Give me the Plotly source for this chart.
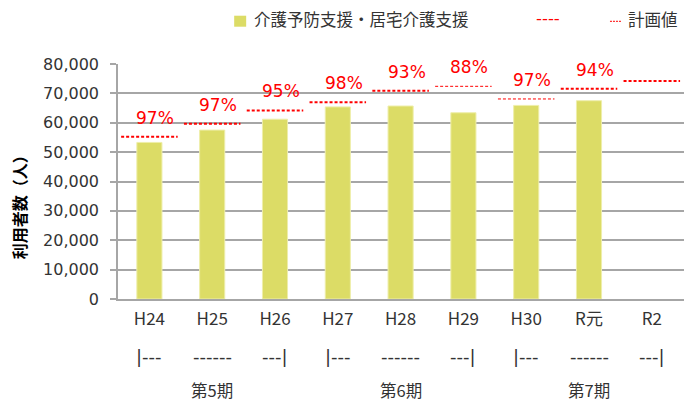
import plotly.graph_objects as go

# ---- data ----
categories = ["H24", "H25", "H26", "H27", "H28", "H29", "H30", "R元", "R2"]
actual_users = [53300, 57500, 61200, 65400, 65700, 63400, 65900, 67500, None]
plan_values = [55200, 59700, 64200, 67000, 70900, 72400, 68100, 71600, 74200]
achievement = ["97%", "97%", "95%", "98%", "93%", "88%", "97%", "94%", ""]
period_marks = ["|---", "------", "---|", "|---", "------", "---|", "|---", "------", "---|"]
period_labels = {"H25": "第5期", "H28": "第6期", "R元": "第7期"}
y_ticks = [0, 10000, 20000, 30000, 40000, 50000, 60000, 70000, 80000]

bar_name = "介護予防支援・居宅介護支援"
plan_name = "計画値"

# ---- style ----
plan_line_widths = [2, 2, 2, 2, 2, 1, 1, 2, 2]
BAR_COLOR = "#DCDC66"
RED = "#FF0000"
GRID = "#A6A6A6"
TXT = "#333333"
JP = "Noto Sans CJK JP"
NUM = "DejaVu Sans"

idx = list(range(len(categories)))

fig = go.Figure()
fig.add_trace(go.Bar(
    x=idx, y=actual_users, name=bar_name, width=0.4,
    marker=dict(color=BAR_COLOR, line=dict(color="#EEEEAA", width=1)),
    showlegend=False,
))

# plan lines: group by width
for w in sorted(set(plan_line_widths)):
    xs, ys = [], []
    for i, p in enumerate(plan_values):
        if plan_line_widths[i] != w:
            continue
        xs += [i - 0.45, i + 0.45, None]
        ys += [p, p, None]
    fig.add_trace(go.Scatter(
        x=xs, y=ys, mode="lines", name=plan_name, showlegend=False,
        line=dict(color=RED, width=w, dash="3px,2px"),
        hoverinfo="skip",
    ))

annotations = []
for i, (p, t) in enumerate(zip(plan_values, achievement)):
    if t:
        annotations.append(dict(
            x=i, y=p, xref="x", yref="y", text=t, showarrow=False,
            xshift=6, yshift=19, yanchor="middle",
            font=dict(family=NUM, size=17, color=RED),
        ))

for i, m in enumerate(period_marks):
    annotations.append(dict(
        x=i, y=-0.2426, xref="x", yref="paper", text=m, showarrow=False,
        yanchor="middle", font=dict(family=NUM, size=18, color=TXT),
    ))
for c, lab in period_labels.items():
    annotations.append(dict(
        x=categories.index(c), y=-0.387, xref="x", yref="paper", text=lab,
        showarrow=False, yanchor="middle", font=dict(family=JP, size=16.5, color=TXT),
    ))

# y-axis title
annotations.append(dict(
    x=-0.172, y=0.4085, xref="paper", yref="paper", text="<b>利用者数（人）</b>",
    textangle=-90, showarrow=False, xanchor="center", yanchor="middle",
    font=dict(family=JP, size=16, color="#000000"),
))

# legend (manual)
annotations.append(dict(
    x=0.2330, y=1.1936, xref="paper", yref="paper", text=bar_name, showarrow=False,
    xanchor="left", yanchor="middle", font=dict(family=JP, size=16.5, color=TXT),
))
annotations.append(dict(
    x=0.7248, y=1.1957, xref="paper", yref="paper", text="----", showarrow=False,
    xanchor="left", yanchor="middle", font=dict(family=NUM, size=16.5, color=RED),
))
annotations.append(dict(
    x=0.885, y=1.1936, xref="paper", yref="paper", text=plan_name, showarrow=False,
    xanchor="left", yanchor="middle", font=dict(family=JP, size=16.5, color=TXT),
))

shapes = [
    dict(type="rect", xref="paper", yref="paper", x0=0.2024, x1=0.2233, y0=1.1587, y1=1.2055,
         fillcolor=BAR_COLOR, line=dict(width=0)),
    dict(type="line", xref="paper", yref="paper", x0=0.8571, x1=0.8763, y0=1.1817, y1=1.1817,
         line=dict(color=RED, width=1, dash="2px,1px")),
]

# page body has an 8px default margin: figure drawn at (8, 8)
fig.update_layout(
    width=684, height=395,
    margin=dict(l=110, r=0, t=56, b=104),
    plot_bgcolor="white", paper_bgcolor="white",
    showlegend=False,
    annotations=annotations, shapes=shapes,
    xaxis=dict(
        range=[-0.5, 8.64], tickmode="array", tickvals=idx, ticktext=categories,
        showgrid=False, zeroline=False, showline=True, linecolor=GRID, linewidth=1.5,
        ticks="", tickfont=dict(family=JP, size=17, color=TXT), ticklabelstandoff=4,
    ),
    yaxis=dict(
        range=[0, 80000], tickmode="array", tickvals=y_ticks,
        tickformat=",d", showgrid=True, gridcolor=GRID, gridwidth=1.5,
        zeroline=False, showline=True, linecolor=GRID, linewidth=1.5,
        ticks="outside", ticklen=6, tickcolor=GRID, tickwidth=1.5,
        tickfont=dict(family=NUM, size=16, color=TXT), ticklabelstandoff=8,
    ),
)

fig.write_html("out.html")
